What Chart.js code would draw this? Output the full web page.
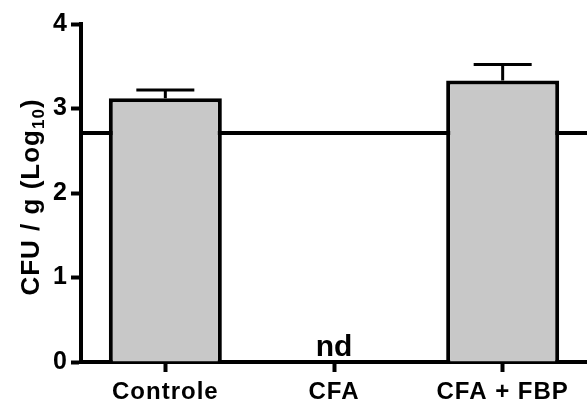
<!DOCTYPE html>
<html>
<head>
<meta charset="utf-8">
<script src="https://cdn.jsdelivr.net/npm/chart.js@4/dist/chart.umd.min.js"></script>
<style>
  html, body { margin: 0; padding: 0; background: #fff; }
  #wrap { width: 587px; height: 402px; }
</style>
</head>
<body>
<div id="wrap"><canvas id="myChart" width="587" height="402"></canvas></div>
<script>
// dados
var categories = ["Controle", "CFA", "CFA + FBP"];
var meanValues = [3.12, null, 3.33];   // CFA = nd (não detectado)
var errorValues = [0.10, null, 0.19];
var detectionLimit = 2.71;
var yTicks = [0, 1, 2, 3, 4];

var FONT = "'Liberation Sans', Arial, Helvetica, sans-serif";

/*-------------------------
barras de erro, limite de detecção, "nd" e título do eixo
--------------------------*/
var extras = {
  id: 'extras',
  beforeInit: function (chart) {
    chart.ctx.letterSpacing = '1px';
  },
  beforeDraw: function (chart) {
    chart.ctx.letterSpacing = '1px';
  },
  beforeDatasetsDraw: function (chart) {
    var ctx = chart.ctx;
    var area = chart.chartArea;
    var y = chart.scales.y.getPixelForValue(detectionLimit);
    ctx.save();
    ctx.strokeStyle = '#000';
    ctx.lineWidth = 4;
    ctx.beginPath();
    ctx.moveTo(area.left, y);
    ctx.lineTo(area.right, y);
    ctx.stroke();
    ctx.restore();
  },
  afterDatasetsDraw: function (chart) {
    var ctx = chart.ctx;
    var yScale = chart.scales.y;
    var meta = chart.getDatasetMeta(0);
    ctx.save();
    ctx.strokeStyle = '#000';
    ctx.fillStyle = '#000';
    meta.data.forEach(function (bar, i) {
      var v = meanValues[i];
      if (v === null) {
        ctx.letterSpacing = '0px';
        ctx.font = 'bold 30px ' + FONT;
        ctx.textAlign = 'center';
        ctx.textBaseline = 'alphabetic';
        ctx.fillText('nd', bar.x, yScale.getPixelForValue(0) - 6);
        return;
      }
      var yTop = yScale.getPixelForValue(v);
      var yErr = yScale.getPixelForValue(v + errorValues[i]);
      ctx.lineWidth = 3;
      ctx.beginPath();
      ctx.moveTo(bar.x, yTop);
      ctx.lineTo(bar.x, yErr);
      ctx.moveTo(bar.x - 29, yErr);
      ctx.lineTo(bar.x + 29, yErr);
      ctx.stroke();
    });
    ctx.restore();
  },
  afterDraw: function (chart) {
    var ctx = chart.ctx;
    var area = chart.chartArea;
    var main = 'CFU / g (Log';
    var sub = '10';
    var end = ')';
    ctx.save();
    ctx.letterSpacing = '1px';
    ctx.fillStyle = '#000';
    ctx.font = 'bold 26px ' + FONT;
    var w1 = ctx.measureText(main).width;
    var w3 = ctx.measureText(end).width;
    ctx.font = 'bold 17px ' + FONT;
    var w2 = ctx.measureText(sub).width;
    var total = w1 + w2 + w3;
    ctx.translate(39, (area.top + area.bottom) / 2 + 4);
    ctx.rotate(-Math.PI / 2);
    ctx.textAlign = 'left';
    ctx.textBaseline = 'alphabetic';
    var x0 = -total / 2;
    ctx.font = 'bold 26px ' + FONT;
    ctx.fillText(main, x0, 0);
    ctx.font = 'bold 17px ' + FONT;
    ctx.fillText(sub, x0 + w1, 5);
    ctx.font = 'bold 26px ' + FONT;
    ctx.fillText(end, x0 + w1 + w2, 0);
    ctx.restore();
  }
};

var ctx = document.getElementById("myChart").getContext('2d');
var myChart = new Chart(ctx, {
  type: 'bar',
  data: {
    labels: categories,
    datasets: [{
      data: meanValues,
      backgroundColor: '#c8c8c8',
      borderColor: '#000',
      borderWidth: 4,
      borderSkipped: 'start',
      barPercentage: 0.67,
      categoryPercentage: 1
    }]
  },
  options: {
    responsive: false,
    animation: false,
    devicePixelRatio: 1,
    layout: {
      padding: { top: 24, right: 0, left: 0, bottom: 0 }
    },
    plugins: {
      legend: { display: false },
      tooltip: { enabled: false }
    },
    scales: {
      x: {
        offset: true,
        grid: {
          offset: false,
          drawOnChartArea: false,
          drawTicks: true,
          tickLength: 10,
          tickWidth: 4,
          tickColor: '#000'
        },
        border: { display: true, color: '#000', width: 4 },
        ticks: {
          color: '#000',
          padding: 6,
          font: { family: FONT, size: 24, weight: 'bold' }
        },
        afterFit: function (scale) { scale.height = 40; }
      },
      y: {
        min: yTicks[0],
        max: yTicks[yTicks.length - 1],
        afterBuildTicks: function (scale) {
          scale.ticks = yTicks.map(function (v) { return { value: v }; });
        },
        grid: {
          drawOnChartArea: false,
          drawTicks: true,
          tickLength: 10,
          tickWidth: 4,
          tickColor: '#000'
        },
        border: { display: true, color: '#000', width: 4 },
        ticks: {
          color: '#000',
          padding: 3,
          font: { family: FONT, size: 25, weight: 'bold' }
        },
        afterFit: function (scale) { scale.width = 81; }
      }
    }
  },
  plugins: [extras]
});
</script>
</body>
</html>
